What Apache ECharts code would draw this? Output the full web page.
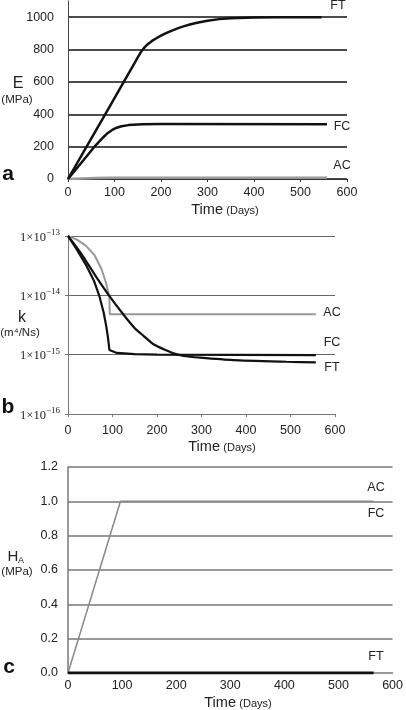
<!DOCTYPE html>
<html><head><meta charset="utf-8">
<script src="https://cdn.jsdelivr.net/npm/echarts@6/dist/echarts.min.js"></script>
<style>html,body{margin:0;padding:0;background:#fff}#c{width:406px;height:710px}</style>
</head><body><div id="c"></div>
<script>
// ---- tick labels ----
const xTicks = [0, 100, 200, 300, 400, 500, 600];
const eTicks = [0, 200, 400, 600, 800, 1000];
const kTicks = [1e-16, 1e-15, 1e-14, 1e-13];
const hTicks = [0, 0.2, 0.4, 0.6, 0.8, 1.0, 1.2];

// ---- panel a: Young's modulus E (MPa) ----
const aDaysFT = [0, 40, 80, 120, 140, 150, 158, 165, 172, 180, 190, 200, 212, 225, 237, 250, 262, 275, 300, 325, 350, 400, 450, 545];
const aE_FT   = [0, 200, 400, 600, 700, 752, 790, 815, 835, 852, 870, 886, 903, 918, 932, 945, 955, 964, 978, 988, 994, 998, 1000, 1000];
const aDaysFC = [0, 30, 60, 75, 85, 95, 105, 115, 130, 160, 200, 557];
const aE_FC   = [0, 105, 210, 255, 283, 303, 317, 326, 333, 338, 340, 338];
const aDaysAC = [0, 30, 60, 90, 557];
const aE_AC   = [0, 3, 6, 8, 8];

// ---- panel b: permeability k (m^4/Ns) ----
const bDaysAC = [0, 20, 40, 60, 75, 85, 91, 93, 94, 557];
const bK_AC   = [1e-13, 8.7e-14, 6.9e-14, 4.7e-14, 2.8e-14, 1.66e-14, 1.07e-14, 9.3e-15, 4.8e-15, 4.8e-15];
const bDaysFC = [0, 20, 42, 58, 70, 80, 86, 90, 93, 96, 110, 150, 200, 557];
const bK_FC   = [1e-13, 5.9e-14, 3.1e-14, 1.78e-14, 1e-14, 5.2e-15, 3.0e-15, 1.9e-15, 1.2e-15, 1.12e-15, 1.07e-15, 1.02e-15, 1.0e-15, 9.8e-16];
const bDaysFT = [0, 30, 60, 92, 124, 150, 169, 192, 222, 237, 260, 297, 371, 491, 557];
const bK_FT   = [1e-13, 5.0e-14, 2.24e-14, 1e-14, 4.8e-15, 2.8e-15, 2.1e-15, 1.5e-15, 1.17e-15, 1.05e-15, 9.5e-16, 8.9e-16, 8.1e-16, 7.6e-16, 7.4e-16];

// ---- panel c: H_A (MPa) ----
const cDaysACFC = [0, 97, 565];
const cH_ACFC   = [0, 1.0, 1.0];
const cDaysFT   = [0, 565];
const cH_FT     = [0, 0];

function zip(a, b) { return a.map((v, i) => [v, b[i]]); }
function expText(n) { return String(n).replace('-', '\u2212'); }

const SANS = '"Liberation Sans", Arial, sans-serif';
const SERIF = '"Liberation Serif", "Times New Roman", serif';
const BLACK = '#111', GRAY = '#999', TXT = '#222';

function txt(x, y, text, size, extra) {
  return { type: 'text', x: x, y: y, z: 100,
    style: Object.assign({ text: text, fontSize: size, fontFamily: SANS, fill: TXT, align: 'center', verticalAlign: 'middle' }, extra || {}) };
}
function timeTitle(cx, cy) {
  return { type: 'text', x: cx, y: cy, z: 100,
    style: { text: '{t|Time} {d|(Days)}', fontFamily: SANS, fill: TXT, align: 'center', verticalAlign: 'middle',
      rich: { t: { fontSize: 14.5, fontFamily: SANS, fill: TXT, verticalAlign: 'bottom', lineHeight: 16 },
              d: { fontSize: 11, fontFamily: SANS, fill: TXT, verticalAlign: 'bottom', lineHeight: 16, padding: [0, 0, 1, 0] } } } };
}

const chart = echarts.init(document.getElementById('c'), null, { renderer: 'canvas' });
const lbl = { color: TXT, fontFamily: SANS, fontSize: 12.5 };

const option = {
  animation: false,
  backgroundColor: '#fff',
  grid: [
    { left: 68, top: 1, width: 279, height: 178 },
    { left: 68, top: 236, width: 267, height: 178 },
    { left: 68, top: 467, width: 329, height: 206 }
  ],
  xAxis: [
    { gridIndex: 0, type: 'value', min: xTicks[0], max: xTicks[xTicks.length - 1], interval: 100,
      axisLine: { lineStyle: { color: '#333', width: 1 } }, axisTick: { show: true, length: 3, lineStyle: { color: '#333' } },
      axisLabel: Object.assign({ margin: 7 }, lbl), splitLine: { show: false } },
    { gridIndex: 1, type: 'value', min: xTicks[0], max: xTicks[xTicks.length - 1], interval: 100,
      axisLine: { lineStyle: { color: '#777', width: 1 } }, axisTick: { show: true, length: 3, lineStyle: { color: '#777' } },
      axisLabel: Object.assign({ margin: 10 }, lbl), splitLine: { show: false } },
    { gridIndex: 2, type: 'value', min: xTicks[0], max: xTicks[xTicks.length - 1], interval: 100,
      axisLine: { lineStyle: { color: '#777', width: 1.5 } }, axisTick: { show: false },
      axisLabel: Object.assign({ margin: 6 }, lbl), splitLine: { show: false } }
  ],
  yAxis: [
    { gridIndex: 0, type: 'value', min: eTicks[0], max: 1100, interval: 200,
      axisLine: { show: true, lineStyle: { color: '#444', width: 1 } }, axisTick: { show: false },
      axisLabel: Object.assign({ margin: 14, formatter: v => (v > eTicks[eTicks.length - 1] ? '' : String(v)) }, lbl),
      splitLine: { show: true, showMaxLine: false, lineStyle: { color: BLACK, width: 1.5 } } },
    { gridIndex: 1, type: 'log', logBase: 10, min: kTicks[0], max: kTicks[kTicks.length - 1],
      axisLine: { show: true, lineStyle: { color: '#777', width: 1 } }, axisTick: { show: true, length: 3, lineStyle: { color: '#777' } },
      axisLabel: { margin: 8, color: TXT, fontFamily: SERIF, fontSize: 12,
        formatter: v => '{b|1\u00D710}{s|' + expText(Math.round(Math.log10(v))) + '}',
        rich: { b: { fontFamily: SERIF, fontSize: 12.5, color: TXT, lineHeight: 16, verticalAlign: 'bottom' },
                s: { fontFamily: SERIF, fontSize: 9, color: TXT, lineHeight: 12, verticalAlign: 'top' } } },
      splitLine: { show: true, showMinLine: false, lineStyle: { color: '#666', width: 1 } } },
    { gridIndex: 2, type: 'value', min: hTicks[0], max: hTicks[hTicks.length - 1], interval: 0.2,
      axisLine: { show: true, lineStyle: { color: '#777', width: 1.5 } }, axisTick: { show: false },
      axisLabel: Object.assign({ margin: 10, formatter: v => v.toFixed(1) }, lbl),
      splitLine: { show: true, showMinLine: false, lineStyle: { color: '#777', width: 1.5 } } }
  ],
  series: [
    { name: 'AC', type: 'line', xAxisIndex: 0, yAxisIndex: 0, data: zip(aDaysAC, aE_AC), showSymbol: false, lineStyle: { color: GRAY, width: 2.5 }, z: 3 },
    { name: 'FC', type: 'line', xAxisIndex: 0, yAxisIndex: 0, data: zip(aDaysFC, aE_FC), showSymbol: false, lineStyle: { color: BLACK, width: 2.5, join: 'round' }, z: 4 },
    { name: 'FT', type: 'line', xAxisIndex: 0, yAxisIndex: 0, data: zip(aDaysFT, aE_FT), showSymbol: false, lineStyle: { color: BLACK, width: 2.5, join: 'round' }, z: 4 },

    { name: 'AC', type: 'line', xAxisIndex: 1, yAxisIndex: 1, data: zip(bDaysAC, bK_AC), showSymbol: false, lineStyle: { color: GRAY, width: 2 }, z: 3 },
    { name: 'FC', type: 'line', xAxisIndex: 1, yAxisIndex: 1, data: zip(bDaysFC, bK_FC), showSymbol: false, lineStyle: { color: BLACK, width: 2.2 }, z: 4 },
    { name: 'FT', type: 'line', xAxisIndex: 1, yAxisIndex: 1, data: zip(bDaysFT, bK_FT), showSymbol: false, smooth: 0.2, lineStyle: { color: BLACK, width: 2.2 }, z: 4 },

    { name: 'AC/FC', type: 'line', xAxisIndex: 2, yAxisIndex: 2, data: zip(cDaysACFC, cH_ACFC), showSymbol: false, lineStyle: { color: '#888', width: 1.5 }, z: 3 },
    { name: 'FT', type: 'line', xAxisIndex: 2, yAxisIndex: 2, data: zip(cDaysFT, cH_FT), showSymbol: false, lineStyle: { color: BLACK, width: 3 }, z: 4 }
  ],
  graphic: [
    // panel a
    txt(8, 174, 'a', 21, { fontWeight: 'bold', fill: '#111' }),
    txt(18, 84, 'E', 16),
    txt(17, 100, '(MPa)', 11.5),
    txt(338, 6, 'FT', 12.5),
    txt(342, 127, 'FC', 12.5),
    txt(342, 166, 'AC', 12.5),
    timeTitle(225, 209),
    // panel b
    txt(8, 407, 'b', 21, { fontWeight: 'bold', fill: '#111' }),
    txt(22, 318, 'k', 16),
    txt(20, 333, '(m\u2074/Ns)', 11.5),
    txt(332, 313, 'AC', 12.5),
    txt(332, 343, 'FC', 12.5),
    txt(332, 368, 'FT', 12.5),
    timeTitle(222, 446),
    // panel c
    txt(9, 667, 'c', 21, { fontWeight: 'bold', fill: '#111' }),
    txt(13, 557, 'H', 15),
    txt(21, 561, 'A', 9),
    txt(17, 572, '(MPa)', 11.5),
    txt(376, 488, 'AC', 12.5),
    txt(376, 514, 'FC', 12.5),
    txt(376, 657, 'FT', 12.5),
    timeTitle(238, 702)
  ]
};
chart.setOption(option);
</script>
</body></html>
